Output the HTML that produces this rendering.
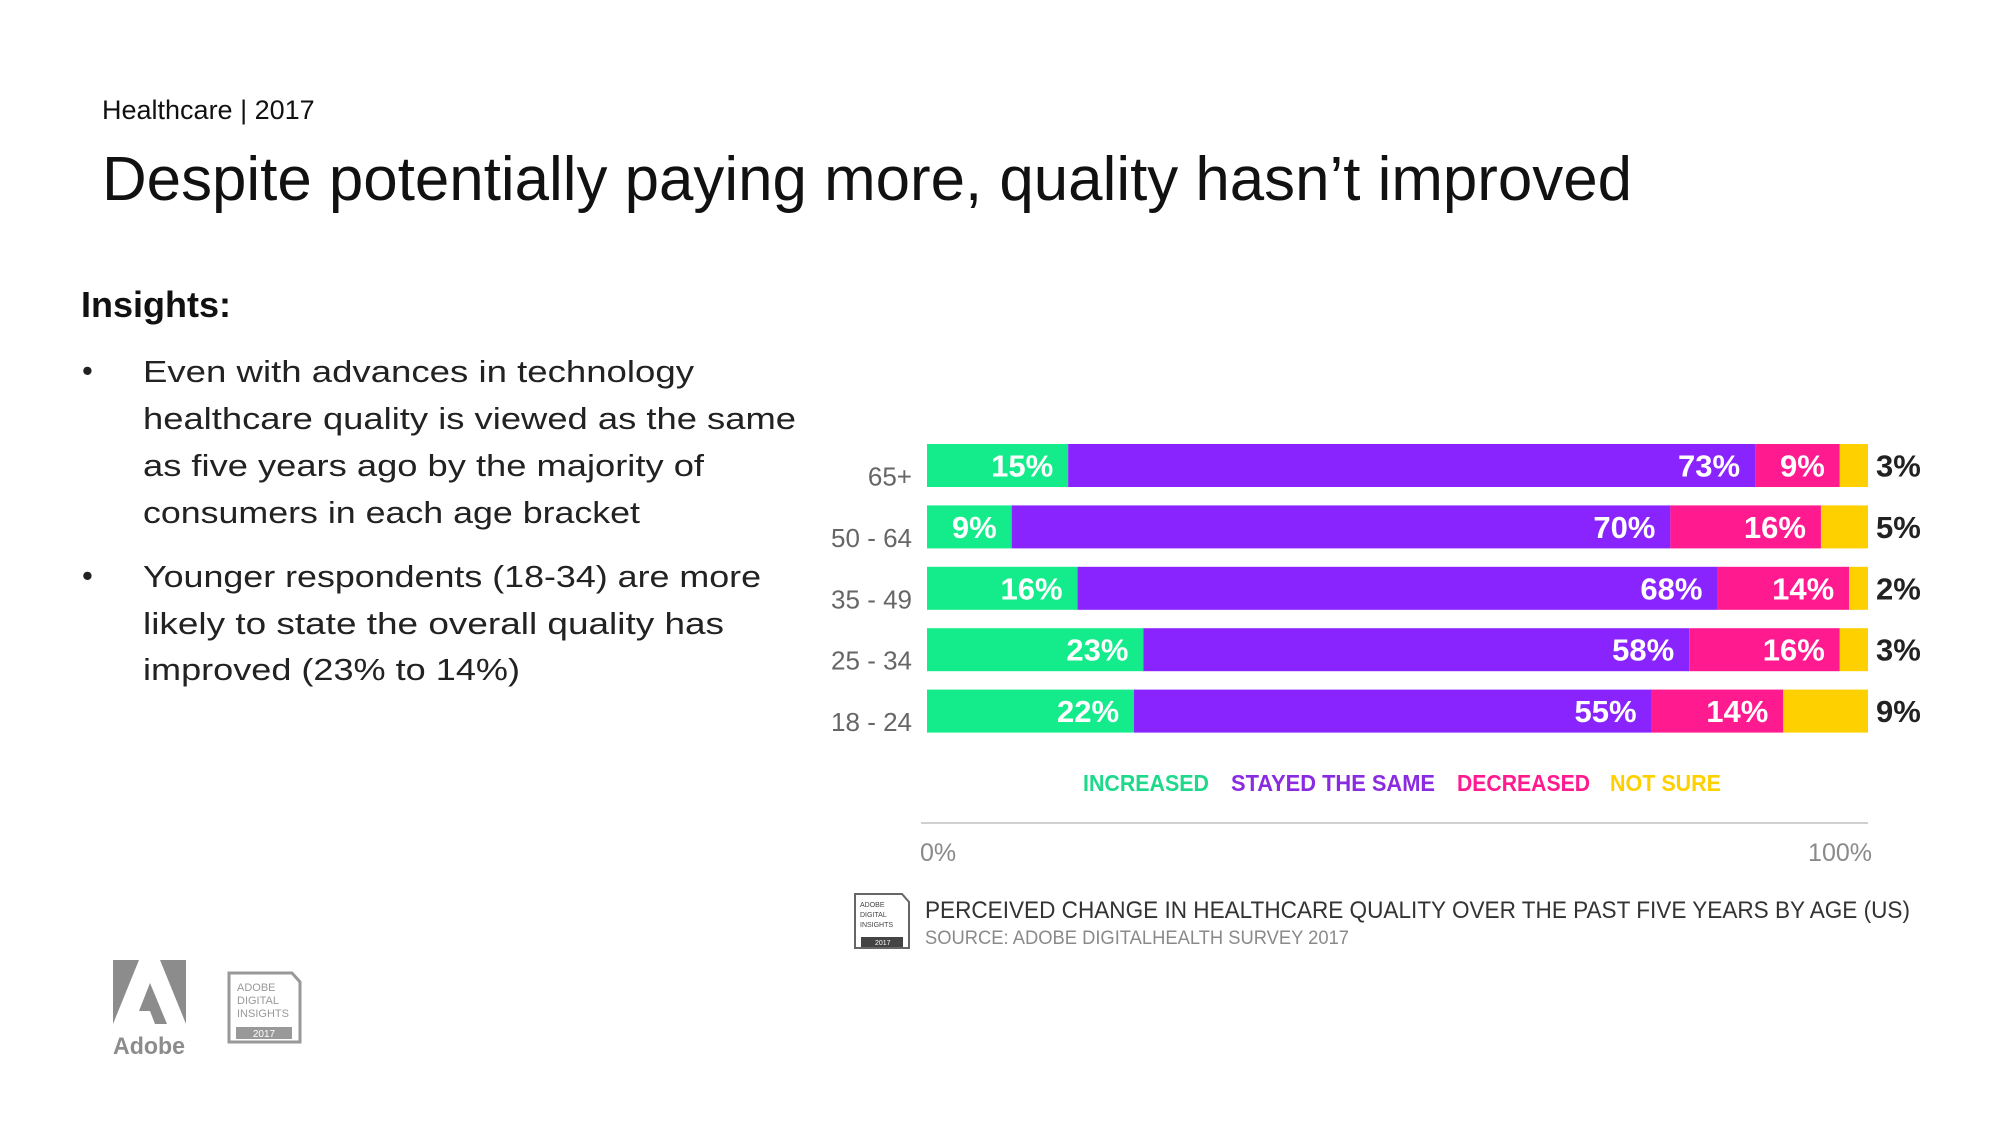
<!DOCTYPE html>
<html><head><meta charset="utf-8"><style>
html,body{margin:0;padding:0;background:#fff;}
svg{display:block;font-family:"Liberation Sans",sans-serif;}
</style></head><body>
<svg id="chart" width="2000" height="1125" viewBox="0 0 2000 1125" xmlns="http://www.w3.org/2000/svg">
<text x="102" y="119" font-size="27" fill="#111">Healthcare | 2017</text>
<text x="102" y="200" font-size="62" fill="#111" textLength="1530" lengthAdjust="spacingAndGlyphs">Despite potentially paying more, quality hasn’t improved</text>
<text x="81" y="317" font-size="36" font-weight="bold" fill="#111">Insights:</text>
<g font-size="31" fill="#222">
<text x="82" y="381">•</text>
<text x="143" y="382" textLength="551" lengthAdjust="spacingAndGlyphs">Even with advances in technology</text>
<text x="143" y="429" textLength="653" lengthAdjust="spacingAndGlyphs">healthcare quality is viewed as the same</text>
<text x="143" y="476" textLength="561" lengthAdjust="spacingAndGlyphs">as five years ago by the majority of</text>
<text x="143" y="523" textLength="497" lengthAdjust="spacingAndGlyphs">consumers in each age bracket</text>
<text x="82" y="586">•</text>
<text x="143" y="587" textLength="618" lengthAdjust="spacingAndGlyphs">Younger respondents (18-34) are more</text>
<text x="143" y="634" textLength="581" lengthAdjust="spacingAndGlyphs">likely to state the overall quality has</text>
<text x="143" y="680" textLength="377" lengthAdjust="spacingAndGlyphs">improved (23% to 14%)</text>
</g>
<g id="bars"></g>
<line x1="921" y1="823" x2="1868" y2="823" stroke="#d0d0d0" stroke-width="2"/>
<g id="ticks" font-size="25" fill="#8a8a8a"></g>
<g id="legend" font-size="23" font-weight="bold"></g>
<g>
<path d="M855 894 H902 L909 902 V948 H855 Z" fill="#fff" stroke="#666" stroke-width="2"/>
<rect x="861" y="937" width="42" height="10" fill="#444"/>
<text x="860" y="907" font-size="7" fill="#444">ADOBE</text>
<text x="860" y="917" font-size="7" fill="#444">DIGITAL</text>
<text x="860" y="927" font-size="7" fill="#444">INSIGHTS</text>
<text x="875" y="945" font-size="7" fill="#fff">2017</text>
</g>
<text x="925" y="918" font-size="24" fill="#333" textLength="985" lengthAdjust="spacingAndGlyphs">PERCEIVED CHANGE IN HEALTHCARE QUALITY OVER THE PAST FIVE YEARS BY AGE (US)</text>
<text x="925" y="944" font-size="19" fill="#8a8a8a" textLength="424" lengthAdjust="spacingAndGlyphs">SOURCE: ADOBE DIGITALHEALTH SURVEY 2017</text>
<g>
<path d="M113 960 H139 L113 1024 Z" fill="#8c8c8c"/>
<path d="M160 960 H186 V1024 Z" fill="#8c8c8c"/>
<path d="M150 983 L167 1024 H155 L150 1011 H139 Z" fill="#8c8c8c"/>
<text x="149" y="1054" font-size="24" font-weight="bold" fill="#8c8c8c" text-anchor="middle" textLength="72" lengthAdjust="spacingAndGlyphs">Adobe</text>
</g>
<g>
<path d="M229 973 H292 L300 982 V1042 H229 Z" fill="#fff" stroke="#999" stroke-width="3"/>
<rect x="236" y="1027" width="56" height="12" fill="#999"/>
<text x="237" y="991" font-size="11" fill="#999">ADOBE</text>
<text x="237" y="1004" font-size="11" fill="#999">DIGITAL</text>
<text x="237" y="1017" font-size="11" fill="#999">INSIGHTS</text>
<text x="264" y="1037" font-size="10" fill="#fff" text-anchor="middle">2017</text>
</g>
</svg>
<script>
const categories = ["65+", "50 - 64", "35 - 49", "25 - 34", "18 - 24"];
const increased = [15, 9, 16, 23, 22];
const stayed = [73, 70, 68, 58, 55];
const decreased = [9, 16, 14, 16, 14];
const notSure = [3, 5, 2, 3, 9];
const seriesNames = ["INCREASED", "STAYED THE SAME", "DECREASED", "NOT SURE"];
const tickValues = [0, 100];
const tickLabels = ["0%", "100%"];

const NS = "http://www.w3.org/2000/svg";
const colors = ["#14ec8c", "#8a24ff", "#ff1a90", "#ffd000"];
const legendColors = ["#1ed98a", "#8a2be2", "#ff1a90", "#ffd000"];
const x0 = 927, x1 = 1868;
const xScale = v => x0 + (x1 - x0) * v / 100;
const rowTop = 444, rowPitch = 61.4, barH = 43;
const yScale = i => rowTop + i * rowPitch;
function mk(tag, attrs, parent, text) {
  const el = document.createElementNS(NS, tag);
  for (const k in attrs) el.setAttribute(k, attrs[k]);
  if (text !== undefined) el.textContent = text;
  parent.appendChild(el);
  return el;
}
const bars = document.getElementById("bars");
const series = [increased, stayed, decreased, notSure];
const segNames = ["increased", "stayed", "decreased", "not-sure"];
categories.forEach((cat, i) => {
  const y = yScale(i);
  const lab = mk("text", {x: 912, y: y + barH / 2 + 20, "font-size": 26, fill: "#666", "text-anchor": "end"}, bars, cat);
  
  
  let acc = 0;
  series.forEach((s, k) => {
    const v = s[i];
    const xa = xScale(acc), xb = xScale(acc + v);
    const r = mk("rect", {x: xa, y: y, width: xb - xa, height: barH, fill: colors[k]}, bars);
    
    
    let t;
    if (k < 3) {
      t = mk("text", {x: xb - 15, y: y + barH / 2 + 11, "font-size": 31, "font-weight": "bold", fill: "#fff", "text-anchor": "end"}, bars, v + "%");
    } else {
      t = mk("text", {x: 1876, y: y + barH / 2 + 11, "font-size": 31, "font-weight": "bold", fill: "#222"}, bars, v + "%");
    }
    
    
    acc += v;
  });
});
const ticks = document.getElementById("ticks");
tickValues.forEach((v, i) => {
  const t = mk("text", {x: v === 0 ? 920 : 1872, y: 861, "text-anchor": v === 0 ? "start" : "end"}, ticks, tickLabels[i]);
  
  
});
const legend = document.getElementById("legend");
const legendX = [1083, 1231, 1457, 1610];
const legendW = [126, 204, 133, 111];
seriesNames.forEach((n, k) => {
  const t = mk("text", {x: legendX[k], y: 791, fill: legendColors[k], textLength: legendW[k], lengthAdjust: "spacingAndGlyphs"}, legend, n);
  
  
});
</script>
</body></html>
